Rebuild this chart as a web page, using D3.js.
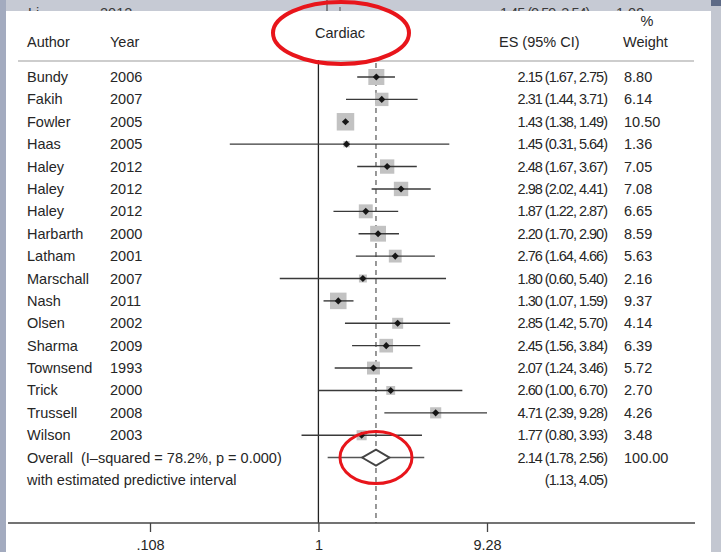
<!DOCTYPE html>
<html>
<head>
<meta charset="utf-8">
<script src="https://cdn.jsdelivr.net/npm/d3@7"></script>
<style>
  body { margin: 0; background: #fff; }
  svg { display: block; font-family: "Liberation Sans", Arial, sans-serif; }
  text { white-space: pre; }
</style>
</head>
<body>
<div id="chart"></div>
<script>
// study rows
const authors = ['Bundy', 'Fakih', 'Fowler', 'Haas', 'Haley', 'Haley', 'Haley', 'Harbarth', 'Latham',
  'Marschall', 'Nash', 'Olsen', 'Sharma', 'Townsend', 'Trick', 'Trussell', 'Wilson'];
const years = [2006, 2007, 2005, 2005, 2012, 2012, 2012, 2000, 2001, 2007, 2011, 2002, 2009, 1993, 2000, 2008, 2003];
const es = [2.15, 2.31, 1.43, 1.45, 2.48, 2.98, 1.87, 2.20, 2.76, 1.80, 1.30, 2.85, 2.45, 2.07, 2.60, 4.71, 1.77];
const lo = [1.67, 1.44, 1.38, 0.31, 1.67, 2.02, 1.22, 1.70, 1.64, 0.60, 1.07, 1.42, 1.56, 1.24, 1.00, 2.39, 0.80];
const hi = [2.75, 3.71, 1.49, 5.64, 3.67, 4.41, 2.87, 2.90, 4.66, 5.40, 1.59, 5.70, 3.84, 3.46, 6.70, 9.28, 3.93];
const weights = [8.80, 6.14, 10.50, 1.36, 7.05, 7.08, 6.65, 8.59, 5.63, 2.16, 9.37, 4.14, 6.39, 5.72, 2.70, 4.26, 3.48];

// pooled estimate
const overallLabel = 'Overall  (I\u2013squared = 78.2%, p = 0.000)';
const predLabel = 'with estimated predictive interval';
const overallES = [2.14, 1.78, 2.56];
const predInterval = [1.13, 4.05];
const overallWeight = 100.00;

const tickValues = [0.108, 1, 9.28];
const tickLabels = ['.108', '1', '9.28'];

const width = 721, height = 552;
const fmt = d3.format('.2f');
const txt = '#262626';

const svg = d3.select('#chart').append('svg')
  .attr('width', width).attr('height', height);

// window behind (screenshot frame)
svg.append('rect').attr('width', width).attr('height', height).attr('fill', '#c6cad4');
svg.append('rect').attr('x', 0).attr('y', 0).attr('width', 6).attr('height', height).attr('fill', '#a3abbf');
svg.append('rect').attr('x', 711).attr('y', 0).attr('width', 10).attr('height', height).attr('fill', '#c3c7d1');
svg.append('rect').attr('x', 711).attr('y', 0).attr('width', 10).attr('height', 6).attr('fill', '#5d6a86');

let back = svg.append('g').attr('font-size', 14.5).attr('fill', '#3a3a3a');
back.append('text').attr('x', 28).attr('y', 18).text('Li');
back.append('text').attr('x', 100).attr('y', 18).text('2012');
back.append('text').attr('x', 500).attr('y', 18).attr('letter-spacing', -1).text('1.45 (0.59, 3.54)');
back.append('text').attr('x', 616).attr('y', 18).text('1.09');
back.append('line').attr('x1', 327).attr('x2', 327).attr('y1', 0).attr('y2', 12).attr('stroke', '#333');
back.append('line').attr('x1', 340).attr('x2', 340).attr('y1', 0).attr('y2', 12)
  .attr('stroke', '#555').attr('stroke-dasharray', '4,3');

// white graph panel
svg.append('rect').attr('x', 6).attr('y', 11).attr('width', 705).attr('height', height - 11).attr('fill', '#fff');

let x = d3.scaleLog()
  .domain([0.108, 9.28])
  .range([150, 487]);

let y = d3.scaleLinear()
  .domain([0, 18])
  .range([77, 480]);

let boxSize = d3.scaleSqrt()
  .domain([0, 10.5])
  .range([0, 17.5]);

let chart = svg.append('g');

// headers
let head = chart.append('g').attr('font-size', 14.5).attr('fill', txt);
head.append('text').attr('x', 27).attr('y', 47).text('Author');
head.append('text').attr('x', 110).attr('y', 47).text('Year');
head.append('text').attr('x', 340).attr('y', 38).attr('text-anchor', 'middle').text('Cardiac');
head.append('text').attr('x', 499).attr('y', 47).text('ES (95% CI)');
head.append('text').attr('x', 647).attr('y', 26).attr('text-anchor', 'middle').text('%');
head.append('text').attr('x', 623).attr('y', 47).text('Weight');

chart.append('line').attr('x1', 18).attr('x2', 694).attr('y1', 61).attr('y2', 61)
  .attr('stroke', '#bdbdbd').attr('stroke-width', 1.5);

// reference lines
chart.append('line').attr('x1', x(1)).attr('x2', x(1)).attr('y1', 60).attr('y2', 523)
  .attr('stroke', '#222').attr('stroke-width', 1.3);
chart.append('line').attr('x1', x(overallES[0])).attr('x2', x(overallES[0])).attr('y1', 63).attr('y2', 523)
  .attr('stroke', '#555').attr('stroke-width', 1.2).attr('stroke-dasharray', '5,4');

// axis
chart.append('line').attr('x1', 8).attr('x2', 695).attr('y1', 523).attr('y2', 523)
  .attr('stroke', '#444').attr('stroke-width', 1.3);
let axis = chart.append('g')
  .attr('transform', 'translate(0, 523)')
  .call(d3.axisBottom(x).tickValues(tickValues).tickFormat((d, i) => tickLabels[i]).tickSize(9).tickPadding(8));
axis.select('.domain').remove();
axis.selectAll('line').attr('stroke', '#444').attr('stroke-width', 1.3);
axis.selectAll('text').attr('font-size', 14.5).attr('fill', txt)
  .attr('font-family', '"Liberation Sans", Arial, sans-serif');

// study rows
let rows = chart.selectAll('g.row').data(authors).enter().append('g').attr('class', 'row');

rows.append('rect')
  .attr('x', (d, i) => x(es[i]) - boxSize(weights[i]) / 2)
  .attr('y', (d, i) => y(i) - boxSize(weights[i]) / 2)
  .attr('width', (d, i) => boxSize(weights[i]))
  .attr('height', (d, i) => boxSize(weights[i]))
  .attr('fill', '#c2c2c2');

rows.append('line')
  .attr('x1', (d, i) => x(lo[i]))
  .attr('x2', (d, i) => x(hi[i]))
  .attr('y1', (d, i) => y(i))
  .attr('y2', (d, i) => y(i))
  .attr('stroke', '#3a3a3a').attr('stroke-width', 1.4);

rows.append('path')
  .attr('d', d3.symbol(d3.symbolDiamond2, 32))
  .attr('transform', (d, i) => `translate(${x(es[i])}, ${y(i)})`)
  .attr('fill', '#161616');

let rowText = rows.append('g').attr('font-size', 14.5).attr('fill', txt);
rowText.append('text').attr('x', 27).attr('y', (d, i) => y(i) + 5).text(d => d);
rowText.append('text').attr('x', 110).attr('y', (d, i) => y(i) + 5).text((d, i) => years[i]);
rowText.append('text').attr('x', 607).attr('y', (d, i) => y(i) + 5)
  .attr('text-anchor', 'end').attr('letter-spacing', -1)
  .text((d, i) => `${fmt(es[i])} (${fmt(lo[i])}, ${fmt(hi[i])})`);
rowText.append('text').attr('x', 624).attr('y', (d, i) => y(i) + 5).text((d, i) => fmt(weights[i]));

// overall
let yo = y(17);
chart.append('line').attr('x1', x(predInterval[0])).attr('x2', x(predInterval[1]))
  .attr('y1', yo).attr('y2', yo).attr('stroke', '#555').attr('stroke-width', 1.5);
chart.append('path')
  .attr('d', `M${x(overallES[1])},${yo} L${x(overallES[0])},${yo - 8} L${x(overallES[2])},${yo} L${x(overallES[0])},${yo + 8} Z`)
  .attr('fill', '#fff').attr('stroke', '#444').attr('stroke-width', 1.8);

let ot = chart.append('g').attr('font-size', 14.5).attr('fill', txt);
ot.append('text').attr('x', 27).attr('y', yo + 5).text(overallLabel);
ot.append('text').attr('x', 27).attr('y', y(18) + 5).text(predLabel);
ot.append('text').attr('x', 607).attr('y', yo + 5).attr('text-anchor', 'end').attr('letter-spacing', -1)
  .text(`${fmt(overallES[0])} (${fmt(overallES[1])}, ${fmt(overallES[2])})`);
ot.append('text').attr('x', 624).attr('y', yo + 5).text(fmt(overallWeight));
ot.append('text').attr('x', 607).attr('y', y(18) + 5).attr('text-anchor', 'end').attr('letter-spacing', -1)
  .text(`(${fmt(predInterval[0])}, ${fmt(predInterval[1])})`);

// red annotation circles
svg.append('ellipse').attr('cx', 341).attr('cy', 33).attr('rx', 68).attr('ry', 31)
  .attr('fill', 'none').attr('stroke', '#e8151b').attr('stroke-width', 4);
svg.append('ellipse').attr('cx', x(overallES[0])).attr('cy', yo).attr('rx', 36).attr('ry', 26)
  .attr('fill', 'none').attr('stroke', '#e8151b').attr('stroke-width', 3);
</script>
</body>
</html>
